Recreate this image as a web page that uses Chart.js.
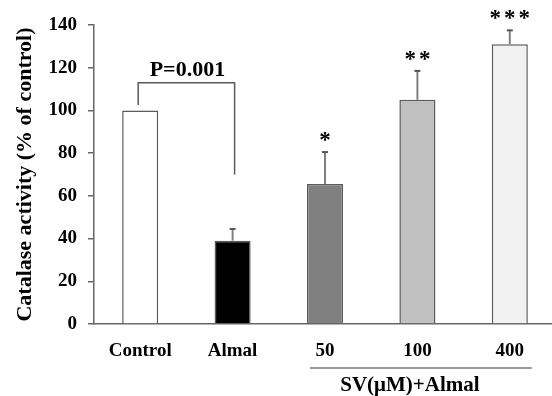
<!DOCTYPE html>
<html>
<head>
<meta charset="utf-8">
<script src="https://cdn.jsdelivr.net/npm/chart.js@4.4.0/dist/chart.umd.min.js"></script>
<style>
    html, body { margin: 0; padding: 0; background: #fff; overflow: hidden; }
    #wrap { width: 560px; height: 396px; }
</style>
</head>
<body>
<div id="wrap"><canvas id="myChart"></canvas></div>
<script>
// chart data
const categories = ['Control', 'Almal', '50', '100', '400'];
const activity = [100, 39, 65.5, 105, 131];
const errorUp = [0, 5.5, 15, 13.5, 6.5];
const stars = ['', '', '*', '**', '***'];
const barColors = ['#ffffff', '#000000', '#808080', '#c0c0c0', '#f2f2f2'];
const yTicks = [0, 20, 40, 60, 80, 100, 120, 140];

// P value bracket between Control and Almal
const pLabel = 'P=0.001';
const bracketTop = 113;
const bracketLeftFoot = 102.5;
const bracketRightFoot = 70;

// group label under 50/100/400
const groupLabel = 'SV(\u03bcM)+Almal';
const groupFrom = 2;
const groupTo = 4;

const serif = '"Liberation Serif", "Times New Roman", serif';

// error bars, stars, bracket and group label
const extras = {
    id: 'extras',
    afterDatasetsDraw(chart) {
        const ctx = chart.ctx;
        const x = chart.scales.x;
        const y = chart.scales.y;
        const bars = chart.getDatasetMeta(0).data;

        ctx.save();
        // error bars
        activity.forEach((v, i) => {
            if (!errorUp[i]) return;
            const cx = bars[i].x;
            const top = y.getPixelForValue(v + errorUp[i]);
            ctx.strokeStyle = '#808080';
            ctx.lineWidth = 2;
            ctx.beginPath();
            ctx.moveTo(cx, y.getPixelForValue(v));
            ctx.lineTo(cx, top);
            ctx.stroke();
            ctx.strokeStyle = '#555';
            ctx.beginPath();
            ctx.moveTo(cx - 3, top);
            ctx.lineTo(cx + 3, top);
            ctx.stroke();
        });

        // stars
        ctx.fillStyle = '#000';
        ctx.font = 'bold 23px ' + serif;
        ctx.textAlign = 'center';
        ctx.textBaseline = 'middle';
        ctx.letterSpacing = '3px';
        stars.forEach((s, i) => {
            if (!s) return;
            const top = y.getPixelForValue(activity[i] + errorUp[i]);
            ctx.fillText(s, bars[i].x + 1.5, top - 11);
        });
        ctx.letterSpacing = '0px';

        // bracket
        const x0 = x.getPixelForValue(0) - 2;
        const x1 = x.getPixelForValue(1) + 2;
        const yt = y.getPixelForValue(bracketTop);
        ctx.strokeStyle = '#595959';
        ctx.lineWidth = 1.5;
        ctx.beginPath();
        ctx.moveTo(x0, y.getPixelForValue(bracketLeftFoot));
        ctx.lineTo(x0, yt);
        ctx.lineTo(x1, yt);
        ctx.lineTo(x1, y.getPixelForValue(bracketRightFoot));
        ctx.stroke();
        ctx.font = 'bold 22px ' + serif;
        ctx.textBaseline = 'bottom';
        ctx.fillText(pLabel, (x0 + x1) / 2 + 1, yt - 1);

        // group underline and label
        const gx0 = bars[groupFrom].x - bars[groupFrom].width / 2 + 3;
        const gx1 = bars[groupTo].x + bars[groupTo].width / 2 + 4;
        const gy = y.bottom + 44;
        ctx.strokeStyle = '#777';
        ctx.lineWidth = 1.5;
        ctx.beginPath();
        ctx.moveTo(gx0, gy);
        ctx.lineTo(gx1, gy);
        ctx.stroke();
        ctx.font = 'bold 21px ' + serif;
        ctx.textBaseline = 'middle';
        ctx.fillText(groupLabel, (gx0 + gx1) / 2 - 11, gy + 18);
        ctx.restore();
    }
};

const ctx = document.getElementById('myChart').getContext('2d');
const catalaseChart = new Chart(ctx, {
    type: 'bar',
    data: {
        labels: categories,
        datasets: [{
            data: activity,
            backgroundColor: barColors,
            borderColor: '#5a5a5a',
            borderWidth: 1.5,
            borderSkipped: 'bottom',
            barPercentage: 0.39,
            categoryPercentage: 1
        }]
    },
    options: {
        responsive: true,
        maintainAspectRatio: false,
        animation: false,
        layout: { padding: { top: 25, right: 4, left: 0, bottom: 0 } },
        plugins: {
            legend: { display: false },
            tooltip: { enabled: false }
        },
        scales: {
            x: {
                grid: { display: false, drawTicks: false },
                border: { display: true, color: '#666', width: 1.5 },
                ticks: {
                    color: '#000',
                    padding: 16,
                    font: { family: serif, size: 19, weight: 'bold' }
                },
                afterFit(scale) { scale.height = 72; }
            },
            y: {
                min: 0,
                max: 140,
                afterBuildTicks(scale) { scale.ticks = yTicks.map(v => ({ value: v })); },
                grid: { drawOnChartArea: false, drawTicks: true, tickLength: 6, color: '#666', lineWidth: 1.5 },
                border: { display: true, color: '#666', width: 1.5 },
                ticks: {
                    color: '#000',
                    padding: 11,
                    font: { family: serif, size: 19, weight: 'bold' }
                },
                title: {
                    display: true,
                    text: 'Catalase activity (% of control)',
                    color: '#000',
                    padding: { top: 12, bottom: 0 },
                    font: { family: serif, size: 22, weight: 'bold' }
                },
                afterFit(scale) { scale.width = 94; }
            }
        }
    },
    plugins: [extras]
});
</script>
</body>
</html>
